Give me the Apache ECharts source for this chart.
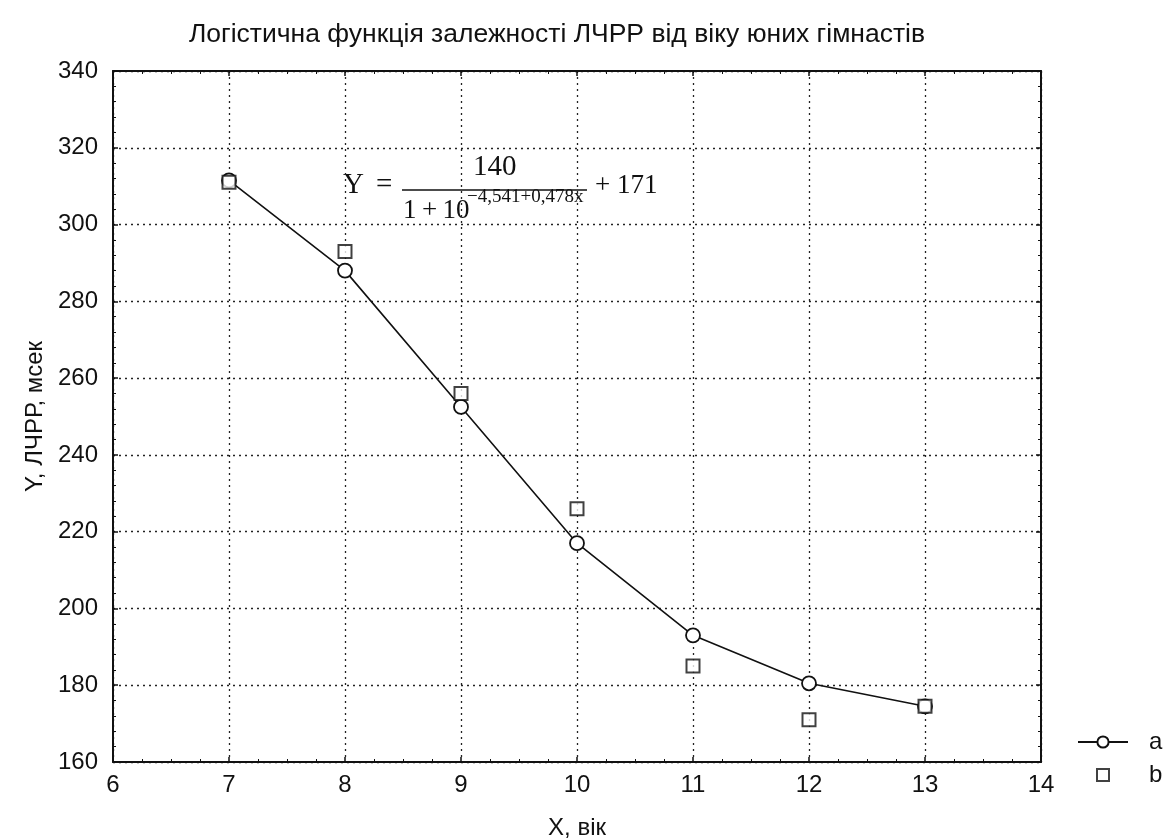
<!DOCTYPE html>
<html>
<head>
<meta charset="utf-8">
<script src="https://cdn.jsdelivr.net/npm/echarts@6/dist/echarts.min.js"></script>
<style>html,body{margin:0;padding:0;background:#fff;}#c{width:1163px;height:840px;}</style>
</head>
<body>
<div id="c"></div>
<script>
var ages = [7, 8, 9, 10, 11, 12, 13];
var seriesA = [311.5, 288, 252.5, 217, 193, 180.5, 174.5];
var seriesB = [311, 293, 256, 226, 185, 171, 174.5];
var chartTitle = 'Логістична функція залежності ЛЧРР від віку юних гімнастів';
var xName = 'X, вік';
var yName = 'Y, ЛЧРР, мсек';

var chart = echarts.init(document.getElementById('c'));
var F = 'Liberation Sans, Arial, sans-serif';
var S = 'Liberation Serif, Times New Roman, serif';
function pairs(v){ return ages.map(function(a,i){ return [a, v[i]]; }); }
function axisStyle(split){
  return {
    axisLine: {show: true, lineStyle: {color: '#111', width: 2}},
    axisTick: {show: true, inside: true, length: 5, lineStyle: {color: '#111', width: 1.5}},
    minorTick: {show: true, splitNumber: split, length: 3, lineStyle: {color: '#111', width: 1}}
  };
}
var gridLine = {show: true, lineStyle: {color: '#222', type: [2, 4], width: 1.3}};
chart.setOption({
  animation: false,
  backgroundColor: '#fff',
  title: {text: chartTitle, left: 552, top: 16, textAlign: 'center',
    textStyle: {fontFamily: F, fontSize: 26.5, fontWeight: 'normal', color: '#111'}},
  grid: {left: 113, right: 122, top: 71, bottom: 78, containLabel: false, outerBoundsMode: 'none'},
  legend: [
    {orient: 'vertical', left: 1077, top: 730, padding: 0, itemWidth: 50, itemHeight: 14,
      textStyle: {fontFamily: F, fontSize: 24, color: '#111', padding: [0,0,0,16]},
      data: ['a']},
    {orient: 'vertical', left: 1096, top: 763, padding: 0, itemWidth: 12, itemHeight: 12,
      textStyle: {fontFamily: F, fontSize: 24, color: '#111', padding: [0,0,0,35]},
      data: [{name: 'b', icon: 'rect'}]}
  ],
  xAxis: [
    Object.assign({type: 'value', min: 6, max: 14, interval: 1, position: 'bottom',
      name: xName, nameLocation: 'middle', nameGap: 54,
      nameTextStyle: {fontFamily: F, fontSize: 24, color: '#111'},
      axisLabel: {fontFamily: F, fontSize: 24, color: '#111', margin: 11},
      splitLine: gridLine}, axisStyle(4)),
    Object.assign({type: 'value', min: 6, max: 14, interval: 1, position: 'top',
      axisLabel: {show: false}, splitLine: {show: false}}, axisStyle(4))
  ],
  yAxis: [
    Object.assign({type: 'value', min: 160, max: 340, interval: 20, position: 'left',
      name: yName, nameLocation: 'middle', nameGap: 64, nameRotate: 90,
      nameTextStyle: {fontFamily: F, fontSize: 24, color: '#111'},
      axisLabel: {fontFamily: F, fontSize: 24, color: '#111', margin: 15},
      splitLine: gridLine}, axisStyle(5)),
    Object.assign({type: 'value', min: 160, max: 340, interval: 20, position: 'right',
      axisLabel: {show: false}, splitLine: {show: false}}, axisStyle(5))
  ],
  series: [
    {name: 'a', type: 'line', data: pairs(seriesA), symbol: 'circle', symbolSize: 14,
      lineStyle: {color: '#111', width: 1.6},
      itemStyle: {color: '#fff', borderColor: '#111', borderWidth: 1.8}, z: 3},
    {name: 'b', type: 'scatter', data: pairs(seriesB), symbol: 'rect', symbolSize: 13,
      itemStyle: {color: '#fff', borderColor: '#111', borderWidth: 2}, z: 4}
  ],
  graphic: [
    {type: 'text', left: 343, top: 171, style: {text: 'Y', font: '29px ' + S, fill: '#111'}},
    {type: 'text', left: 376, top: 171, style: {text: '=', font: '29px ' + S, fill: '#111'}},
    {type: 'text', left: 473, top: 153, style: {text: '140', font: '29px ' + S, fill: '#111'}},
    {type: 'line', shape: {x1: 402, y1: 190, x2: 587, y2: 190}, style: {stroke: '#111', lineWidth: 1.3}},
    {type: 'text', left: 403, top: 197, style: {text: '1\u2009+\u200910', font: '27px ' + S, fill: '#111'}},
    {type: 'text', left: 467, top: 188, style: {text: '\u22124,541+0,478x', font: '19px ' + S, fill: '#111'}},
    {type: 'text', left: 595, top: 172, style: {text: '+ 171', font: '27px ' + S, fill: '#111'}}
  ]
});
</script>
</body>
</html>
